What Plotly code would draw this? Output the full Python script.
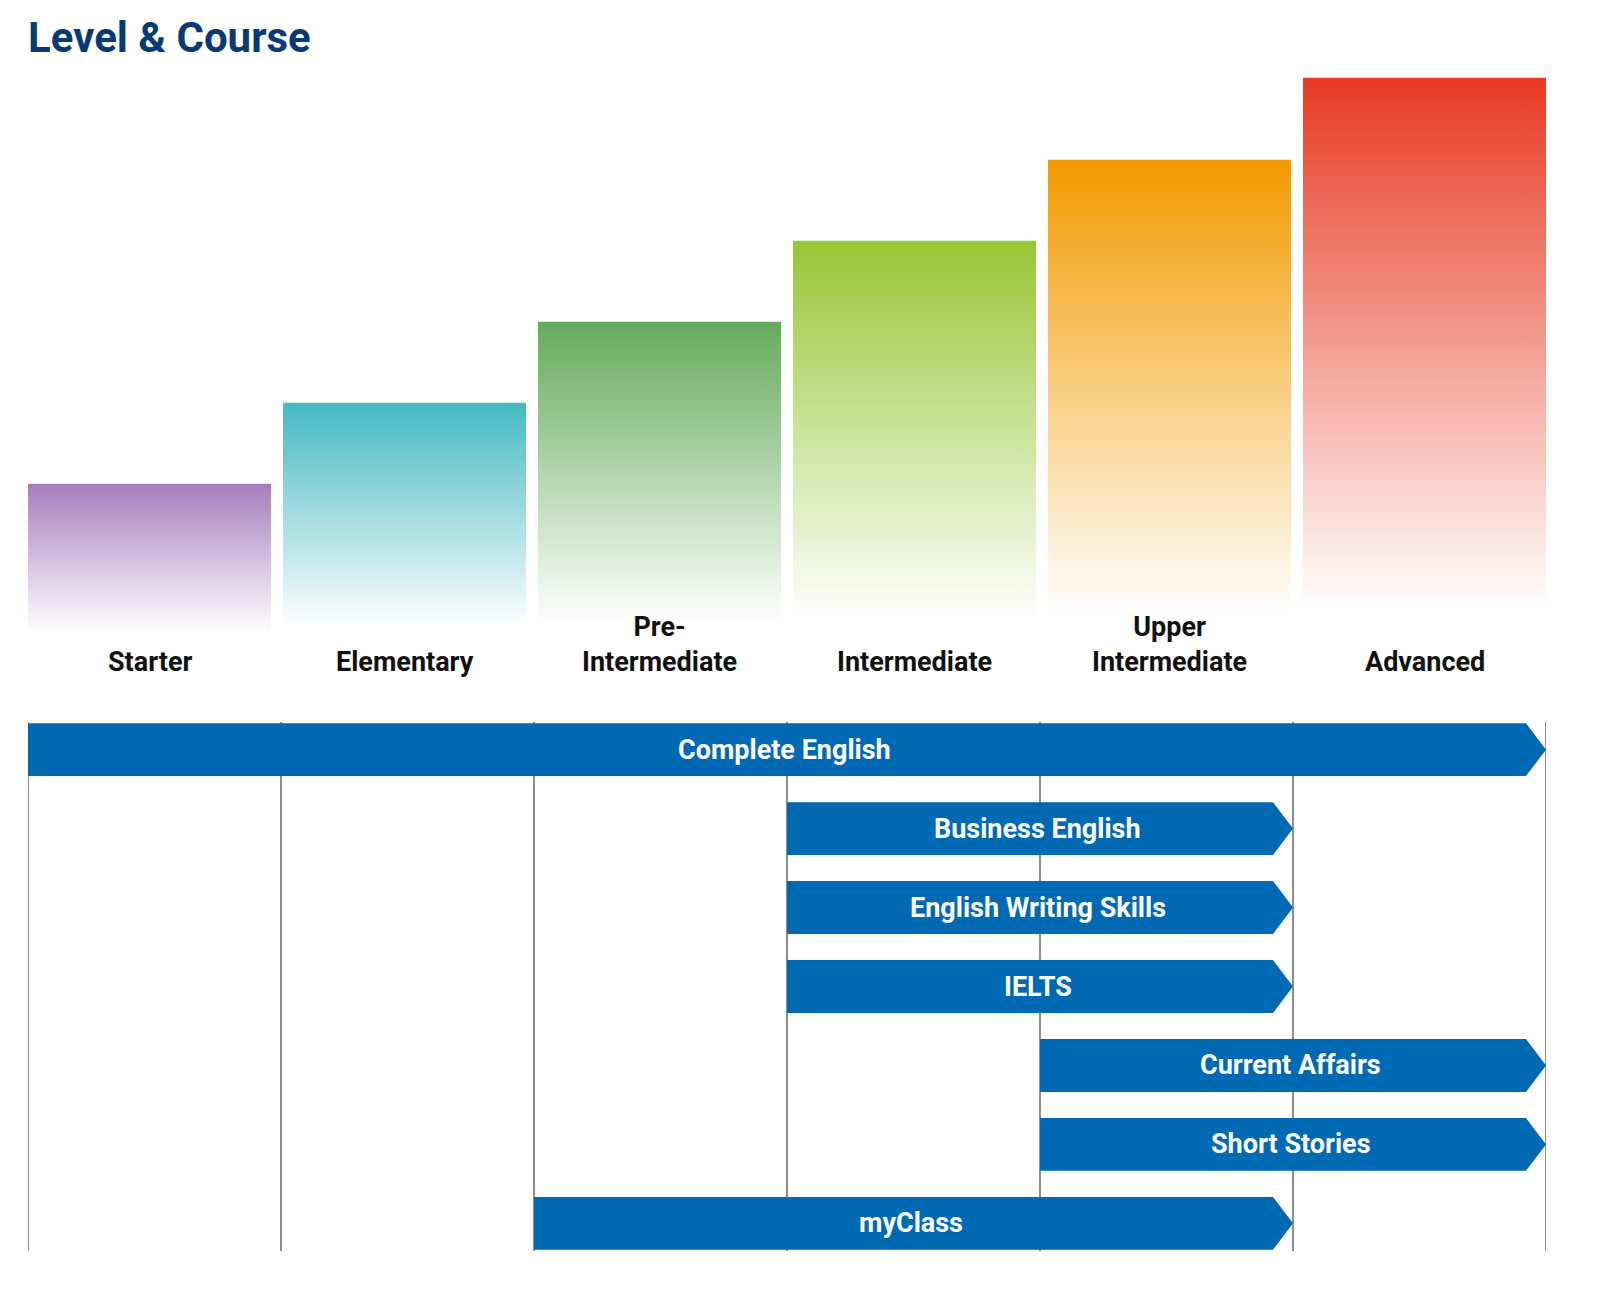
import plotly.graph_objects as go

levels = ["Starter", "Elementary", "Pre-<br>Intermediate", "Intermediate", "Upper<br>Intermediate", "Advanced"]
heights = [1.96, 2.96, 3.96, 4.96, 5.96, 6.97]
colors = ["#a77dbd", "#45b9c2", "#64ab5a", "#97c635", "#f29a00", "#e73a22"]

courses = ["Complete English", "Business English", "English Writing Skills", "IELTS",
           "Current Affairs", "Short Stories", "myClass"]
starts = [0, 3, 3, 3, 4, 4, 2]
ends = [6, 5, 5, 5, 6, 6, 5]

blue = "#0069b4"
font = "Roboto"
W, H = 1581, 1299
off = 8  # page body margin

fig = go.Figure()

# gradient level bars
for i, (lv, h, c) in enumerate(zip(levels, heights, colors)):
    x0 = i * 255 / 253
    x1 = x0 + 243 / 253
    fig.add_trace(go.Scatter(
        x=[x0, x1, x1, x0, x0], y=[0, 0, h, h, 0], mode="none",
        fill="toself", hoverinfo="skip",
        fillgradient=dict(type="vertical",
                          colorscale=[[0, "rgba(255,255,255,1)"], [0.06, "rgba(255,255,255,1)"], [1, c]]),
        xaxis="x", yaxis="y", showlegend=False))
    fig.add_annotation(x=(x0 + x1) / 2, y=-0.46, xref="x", yref="y", text="<b>" + lv + "</b>",
                       showarrow=False, yanchor="bottom",
                       font=dict(family=font, size=27, color="#111"))

# column grid lines
for k in range(7):
    fig.add_trace(go.Scatter(x=[k, k], y=[-0.35, 6.35], mode="lines",
                             line=dict(color="#444", width=1.2), hoverinfo="skip",
                             xaxis="x", yaxis="y2", showlegend=False))

# course arrows
tip = 20 / 253
hh = 0.335
for i, (name, s, e) in enumerate(zip(courses, starts, ends)):
    fig.add_trace(go.Scatter(
        x=[s, e - tip, e, e - tip, s, s], y=[i - hh, i - hh, i, i + hh, i + hh, i - hh],
        mode="none", fill="toself", fillcolor=blue, hoverinfo="skip",
        xaxis="x", yaxis="y2", showlegend=False))
    fig.add_annotation(x=(s + e - tip) / 2 + 0.03, y=i, xref="x", yref="y2", text="<b>" + name + "</b>",
                       showarrow=False, font=dict(family=font, size=27, color="white"))

fig.update_layout(
    width=W, height=H, plot_bgcolor="white", paper_bgcolor="white",
    margin=dict(l=28 - off, r=W - (1546 - off), t=0, b=0),
    title=dict(text="<b>Level & Course</b>", x=(28 - off) / W, xanchor="left", y=1 - (37 - off) / H,
               yanchor="middle", font=dict(family=font, size=42, color="#0a3a73")),
    xaxis=dict(range=[0, 6], visible=False, fixedrange=True),
    yaxis=dict(range=[-0.6, 7.03], domain=[1 - (691 - off) / H, 1 - (73 - off) / H], visible=False),
    yaxis2=dict(range=[6.35, -0.35], domain=[1 - (1251 - off) / H, 1 - (722 - off) / H], visible=False),
)

fig.write_html("out.html")
